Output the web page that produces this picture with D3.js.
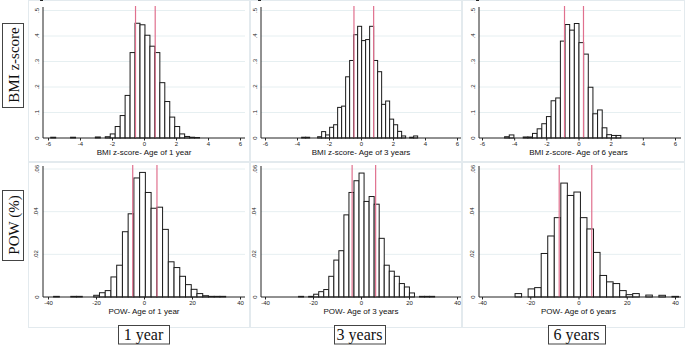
<!DOCTYPE html>
<html><head><meta charset="utf-8">
<script src="https://cdn.jsdelivr.net/npm/d3@7"></script>
<style>
body{margin:0;background:#fff;}
svg{display:block;}
</style></head>
<body>
<svg id="c" width="685" height="345"></svg>
<script>
// ---------- data ----------
const rowLabels = ["BMI z-score", "POW (%)"];
const colLabels = ["1 year", "3 years", "6 years"];
const xTitles = ["BMI z-score- Age of 1 year", "BMI z-score- Age of 3 years", "BMI z-score- Age of 6 years",
                 "POW- Age of 1 year", "POW- Age of 3 years", "POW- Age of 6 years"];
const bmiXTicks = [-6, -4, -2, 0, 2, 4, 6];
const bmiYTicks = [0, 0.1, 0.2, 0.3, 0.4, 0.5];
const powXTicks = [-40, -20, 0, 20, 40];
const powYTicks = [0, 0.02, 0.04, 0.06];

// histogram bins: [first bin start, bin width]
const bmi1Bins = [-5.83, 0.31];
const bmi1Density = [0.003,0,0,0,0.003,0,0,0,0,0.004,0,0.005,0.016,0.045,0.088,0.167,0.335,0.45,0.444,0.403,0.36,0.335,0.217,0.143,0.082,0.045,0.016,0.006,0.003,0.002];
const bmi3Bins = [-3.71, 0.25];
const bmi3Density = [0.003,0.003,0,0,0.005,0.025,0.012,0.042,0.052,0.12,0.125,0.24,0.304,0.405,0.438,0.382,0.386,0.438,0.304,0.26,0.132,0.145,0.074,0.052,0.026,0.008,0,0.003,0.008];
const bmi6Bins = [-4.594, 0.289];
const bmi6Density = [0.005,0.012,0,0,0.004,0.004,0.018,0.036,0.056,0.084,0.146,0.157,0.38,0.445,0.423,0.449,0.374,0.329,0.199,0.095,0.11,0.04,0.013,0.01,0.01];
const pow1Bins = [-37.67, 2.39];
const pow1Density = [0.0003,0,0,0.0003,0.0003,0,0,0.0008,0.002,0.003,0.0094,0.0149,0.0306,0.039,0.0558,0.0584,0.049,0.0416,0.0421,0.0317,0.0165,0.0138,0.0097,0.0058,0.0036,0.0016,0.0006,0.0003,0.0003,0.0003];
const pow3Bins = [-26.02, 2.1];
const pow3Density = [0.0003,0,0.0003,0.0013,0.0025,0.0035,0.0097,0.0173,0.0217,0.0385,0.049,0.0545,0.0581,0.0448,0.0471,0.0435,0.0275,0.0149,0.0121,0.0097,0.0063,0.0047,0.0019,0,0.0003,0.0003,0.0003];
const pow6Bins = [-26.3, 2.71];
const pow6Density = [0.0016,0,0.0038,0.0044,0.0204,0.0286,0.0372,0.0534,0.0476,0.0492,0.0372,0.0319,0.0209,0.0101,0.0071,0.0063,0.003,0.0011,0.0016,0,0.0009,0,0.0008,0,0.0003];

// vertical reference lines
const bmi1Lines = [-0.53, 0.70];
const bmi3Lines = [-0.44, 0.79];
const bmi6Lines = [-0.87, 0.31];
const pow1Lines = [-4.7, 5.4];
const pow3Lines = [-3.7, 6.1];
const pow6Lines = [-8.0, 5.5];

// ---------- layout ----------
const svg = d3.select("#c");
const cols = [
  {box:[28,250], axisX:43, xr:[48,240], right:245},
  {box:[250,462], axisX:261, xr:[265,457], right:461},
  {box:[462,685], axisX:479, xr:[482,675], right:681}
];
const rows = [
  {box:[0,162], base:138, top:10.5, axisTop:7, lineTop:6, xDomain:[-6,6], yDomain:[0,0.5], xTicks:bmiXTicks, yTicks:bmiYTicks,
   fmt: d => d===0 ? "0" : d3.format(".1f")(d).replace(/^0/,"")},
  {box:[162,328], base:297, top:169, axisTop:166, lineTop:165, xDomain:[-40,40], yDomain:[0,0.06], xTicks:powXTicks, yTicks:powYTicks,
   fmt: d => d===0 ? "0" : d3.format(".2f")(d).replace(/^0/,"")}
];
const panelData = [
  [ [bmi1Bins,bmi1Density,bmi1Lines], [bmi3Bins,bmi3Density,bmi3Lines], [bmi6Bins,bmi6Density,bmi6Lines] ],
  [ [pow1Bins,pow1Density,pow1Lines], [pow3Bins,pow3Density,pow3Lines], [pow6Bins,pow6Density,pow6Lines] ]
];

const sans = "'Liberation Sans', Arial, sans-serif";
const serif = "'Liberation Serif', 'Times New Roman', serif";

rows.forEach((R, ri) => {
  cols.forEach((C, ci) => {
    const [bins, dens, lines] = panelData[ri][ci];
    const g = svg.append("g");
    // faint panel border
    g.append("rect").attr("x", C.box[0]+0.5).attr("y", R.box[0]+0.5)
      .attr("width", C.box[1]-C.box[0]-1).attr("height", R.box[1]-R.box[0]-1)
      .attr("fill","none").attr("stroke","#e3eaee").attr("stroke-width",1);

    const x = d3.scaleLinear().domain(R.xDomain).range(C.xr);
    const y = d3.scaleLinear().domain(R.yDomain).range([R.base, R.top]);

    // gridlines
    g.selectAll("line.grid").data(R.yTicks.filter(t => t>0)).join("line")
      .attr("x1", C.axisX).attr("x2", C.right)
      .attr("y1", d => y(d)).attr("y2", d => y(d))
      .attr("stroke","#e6eff1").attr("stroke-width",1);

    // bars
    const barData = dens.map((v,i) => ({x0: bins[0] + i*bins[1], x1: bins[0] + (i+1)*bins[1], v}))
                        .filter(d => d.v > 0);
    g.selectAll("rect.bar").data(barData).join("rect")
      .attr("x", d => x(d.x0)).attr("width", d => x(d.x1)-x(d.x0))
      .attr("y", d => y(d.v)).attr("height", d => y(0)-y(d.v))
      .attr("fill","#fff").attr("stroke","#1a1a1a").attr("stroke-width",1);

    // reference lines
    g.selectAll("line.ref").data(lines).join("line")
      .attr("x1", d => x(d)).attr("x2", d => x(d))
      .attr("y1", R.lineTop).attr("y2", R.base)
      .attr("stroke","#e0708e").attr("stroke-width",1.2);

    // axes lines
    g.append("line").attr("x1", C.axisX).attr("x2", C.axisX).attr("y1", R.axisTop).attr("y2", R.base)
      .attr("stroke","#222").attr("stroke-width",1);
    g.append("line").attr("x1", C.axisX).attr("x2", C.right).attr("y1", R.base).attr("y2", R.base)
      .attr("stroke","#222").attr("stroke-width",1);

    // y axis ticks
    const ya = g.append("g").attr("transform", `translate(${C.axisX},0)`)
      .call(d3.axisLeft(y).tickValues(R.yTicks).tickSize(2.5).tickPadding(2).tickFormat(R.fmt));
    ya.select(".domain").remove();
    ya.selectAll("line").attr("stroke","#222");
    ya.selectAll("text").attr("font-family", sans).attr("font-size", 6).attr("fill","#222")
      .attr("transform", function(d){ return `rotate(-90,${-5},${y(d)})`; })
      .attr("x", -5).attr("dy", 0).attr("text-anchor","middle").attr("y", d => y(d) - 1 + 0.0)
      .attr("transform", d => `rotate(-90,-5,${y(d)})`);
    // place the rotated labels so their centre sits on the tick
    ya.selectAll(".tick").attr("transform", null);
    ya.selectAll("text").attr("x", -4.5).attr("y", d => y(d))
      .attr("transform", d => `rotate(-90,-4.5,${y(d)})`).attr("dy","0");

    // x axis ticks
    const xa = g.append("g").attr("transform", `translate(0,${R.base})`)
      .call(d3.axisBottom(x).tickValues(R.xTicks).tickSize(2.5).tickPadding(1.5).tickFormat(d => String(d)));
    xa.select(".domain").remove();
    xa.selectAll("line").attr("stroke","#222");
    xa.selectAll("text").attr("font-family", sans).attr("font-size", 6).attr("fill","#222");

    // x title
    g.append("text").attr("x", (C.xr[0]+C.xr[1])/2).attr("y", R.base + 17)
      .attr("text-anchor","middle").attr("font-family", sans).attr("font-size", 8).attr("fill","#111")
      .text(xTitles[ri*3+ci]);
  });
});

// row labels (boxed, rotated)
const rowBoxes = [[2,23,23,107],[2,23,190,260]];
rowLabels.forEach((t,i) => {
  const [x0,x1,y0,y1] = rowBoxes[i];
  svg.append("rect").attr("x", x0+0.5).attr("y", y0+0.5).attr("width", x1-x0).attr("height", y1-y0)
    .attr("fill","#fff").attr("stroke","#444").attr("stroke-width",1);
  const cx = (x0+x1)/2 + 1, cy = (y0+y1)/2;
  svg.append("text").attr("x", cx).attr("y", cy).attr("transform", `rotate(-90,${cx},${cy})`)
    .attr("text-anchor","middle").attr("dominant-baseline","central")
    .attr("font-family", serif).attr("font-size", 15).attr("fill","#111").text(t);
});

// column labels (boxed)
const colBoxes = [[118,169],[334,385],[548,605]];
colLabels.forEach((t,i) => {
  const [x0,x1] = colBoxes[i];
  svg.append("rect").attr("x", x0+0.5).attr("y", 325.5).attr("width", x1-x0).attr("height", 18.5)
    .attr("fill","#fff").attr("stroke","#444").attr("stroke-width",1);
  svg.append("text").attr("x", (x0+x1)/2).attr("y", 340)
    .attr("text-anchor","middle").attr("font-family", serif).attr("font-size", 16).attr("fill","#111").text(t);
});
</script>
</body></html>
